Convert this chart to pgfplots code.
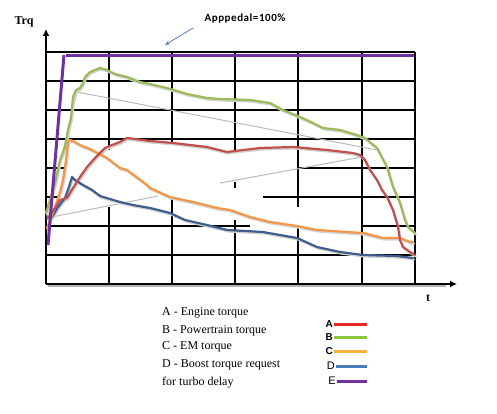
\documentclass[border=0pt]{standalone}
\usepackage{fontspec}
\setmainfont{Liberation Serif}
\newfontfamily\arial{Liberation Sans}
\newfontfamily\calibri[LetterSpace=5]{Carlito}
\usepackage{pgfplots}
\pgfplotsset{compat=1.18}
\usetikzlibrary{arrows.meta}
\definecolor{cA}{HTML}{C0504D}
\definecolor{cB}{HTML}{9BBB59}
\definecolor{cC}{HTML}{F79646}
\definecolor{cD}{HTML}{3E5F8E}
\definecolor{cE}{HTML}{7030A0}
\definecolor{lA}{HTML}{E8262A}
\definecolor{lB}{HTML}{8CC63F}
\definecolor{lC}{HTML}{FBB040}
\definecolor{lD}{HTML}{4A7EBB}
\definecolor{lE}{HTML}{7030A0}
\definecolor{arr}{HTML}{4F81BD}
\pgfplotstableread{
x y
1 66
6 67
12 77
19 86
23 97
26 107
29 104
37 99
46 94
54 88
64 85
74 82
87 79
104 76
124 71
139 64
161 59
181 54
217 52
251 46
271 37
294 32
317 29
351 28
367 26
}\dataD
\pgfplotstableread{
x y
1 56
4 64
9 77
14 92
17 104
20 124
22 142
24 144
27 143
34 139
44 135
61 126
74 116
81 114
101 99
104 96
124 87
147 82
171 76
184 74
204 67
224 62
251 58
271 54
317 51
337 46
354 46
364 42
367 42
}\dataC
\pgfplotstableread{
x y
2 66
9 76
14 84
21 86
27 96
34 107
41 117
49 126
52 129
59 136
66 139
74 142
81 146
104 143
127 141
161 137
181 132
214 136
247 137
281 134
307 131
314 129
319 124
324 114
331 104
336 94
341 87
347 74
352 57
354 44
357 37
364 32
369 29
}\dataA
\pgfplotstableread{
x y
0 71
4 84
9 101
14 124
19 137
22 154
25 166
27 187
30 194
34 196
37 201
39 207
44 212
54 216
61 214
69 210
81 207
94 202
104 200
121 196
141 190
161 186
174 185
204 184
224 181
237 174
254 167
267 161
277 156
294 154
311 149
319 146
331 136
341 117
347 97
354 81
359 64
362 57
369 51
}\dataB
\begin{document}
\begin{tikzpicture}
\useasboundingbox (0,0) rectangle (497pt,413pt);
\begin{axis}[
  at={(46pt,129pt)}, anchor=south west,
  x=1pt, y=1pt, xmin=0, xmax=411, ymin=0, ymax=255,
  hide axis, clip=false,
  every axis plot/.append style={line width=2.2pt, line join=round, line cap=round, mark=none},
  shadow/.style={gray!35, xshift=1pt, yshift=-1.5pt},
]
% grid
\draw[black, line width=1.2pt]
  (0,232)--(369,232) (0,203)--(369,203) (0,174)--(369,174) (0,145)--(369,145)
  (0,116)--(20,116) (252,116)--(369,116)
  (0,87)--(14,87) (217,87)--(369,87)
  (0,58)--(204,58) (316,58)--(369,58)
  (0,29)--(369,29)
  (63,232)--(63,134) (63,77)--(63,0)
  (126,232)--(126,142) (126,87)--(126,0)
  (189,232)--(189,131) (189,102)--(189,96) (189,64)--(189,0)
  (252,232)--(252,77) (252,59)--(252,0)
  (316,232)--(316,0)
  (369,232)--(369,0);
% axes
\draw[gray!60, line width=2.2pt] (2,-2)--(400,-2);
\draw[black, line width=2.2pt, -{Latex[length=7pt,width=7pt]}] (0,0)--(411,0);
\draw[black, line width=2.2pt, -{Latex[length=7pt,width=7pt]}] (0,0)--(0,255);
% gray helper lines
\addplot[gray!55, line width=1pt] coordinates {(1,66) (31,192) (331,134)};
\addplot[gray!55, line width=1pt] coordinates {(1,66) (112,88)};
\addplot[gray!55, line width=1pt] coordinates {(174,101) (316,127)};
% shadows
\addplot[shadow] table {\dataD};
\addplot[shadow] table {\dataC};
\addplot[shadow] table {\dataA};
\addplot[shadow] table {\dataB};
% curves
\addplot[cD] table {\dataD};
\addplot[cC] table {\dataC};
\addplot[cA] table {\dataA};
\addplot[cB] table {\dataB};
% E purple
\addplot[cE, line width=3pt, line cap=butt] coordinates {(2,39) (18,229)};
\addplot[cE, line width=3pt, line cap=butt] coordinates {(20,228) (368,228)};
\end{axis}
% labels
\node[font=\fontsize{12}{13}\selectfont\bfseries] at (24pt,391pt) {Trq};
\node[font=\fontsize{12}{14}\selectfont\bfseries] at (428pt,115pt) {t};
\node[font=\calibri\fontsize{11}{12}\selectfont\bfseries] at (245pt,394pt) {Apppedal=100\%};
\draw[arr, line width=0.8pt, -{Stealth[length=5pt,width=4pt]}] (193pt,385pt)--(165pt,368pt);
% legend text
\begin{scope}[every node/.style={anchor=west, inner sep=0pt, font=\fontsize{12}{14}\selectfont}]
\node at (162pt,100pt) {A - Engine torque};
\node at (162pt,82pt) {B - Powertrain torque};
\node at (162pt,66pt) {C - EM torque};
\node at (162pt,48pt) {D - Boost torque request};
\node at (162pt,30pt) {for turbo delay};
\end{scope}
% legend samples
\begin{scope}[every node/.style={anchor=east, inner sep=0pt}]
\node[font=\arial\fontsize{10}{12}\selectfont\bfseries] at (333pt,89pt) {A};
\node[font=\arial\fontsize{10}{12}\selectfont\bfseries] at (333pt,76pt) {B};
\node[font=\arial\fontsize{10}{12}\selectfont\bfseries] at (333pt,62pt) {C};
\node[font=\arial\fontsize{11}{12}\selectfont] at (335pt,47pt) {D};
\node[font=\arial\fontsize{11}{12}\selectfont] at (336pt,32pt) {E};
\end{scope}
\draw[lA, line width=3pt] (334pt,89pt)--(367pt,89pt);
\draw[lB, line width=3pt] (334pt,76pt)--(367pt,76pt);
\draw[lC, line width=3pt] (334pt,62pt)--(367pt,62pt);
\draw[lD, line width=3pt] (336pt,47pt)--(367pt,47pt);
\draw[lE, line width=3pt] (337pt,32pt)--(367pt,32pt);
\end{tikzpicture}
\end{document}
